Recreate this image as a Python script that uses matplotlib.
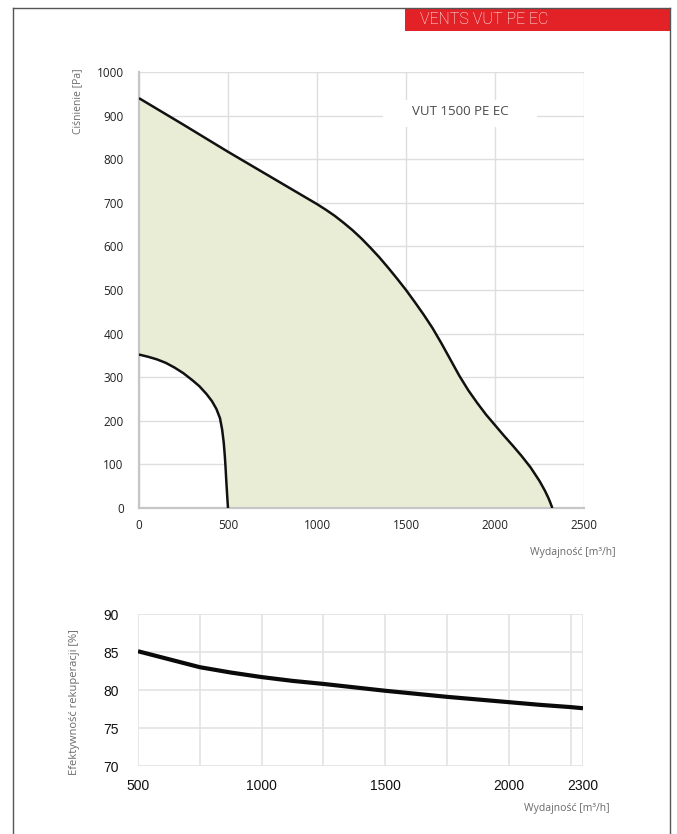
import matplotlib
matplotlib.use("Agg")
import matplotlib.pyplot as plt
from matplotlib.lines import Line2D
from matplotlib.patches import Rectangle

# Fan curve: maximum-speed characteristic (airflow m3/h, pressure Pa)
flow_max = [0, 250, 500, 750, 1000, 1050, 1100, 1150, 1200, 1250, 1300,
            1350, 1400, 1450, 1500, 1550, 1600, 1650, 1700, 1750, 1800,
            1850, 1900, 1950, 2000, 2050, 2100, 2150, 2200, 2250, 2280,
            2300, 2312, 2322]
p_max = [940, 879, 817, 757, 697, 684, 670, 654, 637, 618, 597,
         575, 551, 526, 500, 472, 443, 412, 377, 340, 303,
         270, 241, 214, 190, 166, 143, 119, 93, 62, 40,
         23, 11, 0]

# Minimum-speed characteristic
flow_min = [0, 50, 100, 150, 200, 250, 300, 340, 380, 410, 435,
            455, 467, 476, 482, 486, 490, 494, 497, 500]
p_min = [352, 347, 341, 333, 322, 309, 293, 279, 261, 245, 227,
         206, 180, 150, 120, 95, 65, 38, 18, 0]

# Heat recovery efficiency vs airflow
flow_eff = [500, 625, 750, 875, 1000, 1125, 1250, 1375, 1500, 1625,
            1750, 1875, 2000, 2125, 2250, 2300]
eff = [85.1, 84.05, 83.0, 82.3, 81.7, 81.2, 80.8, 80.35, 79.9, 79.5,
       79.1, 78.75, 78.4, 78.05, 77.75, 77.6]

x_ticks_top = [0, 500, 1000, 1500, 2000, 2500]
y_ticks_top = list(range(0, 1001, 100))
x_ticks_bot = [500, 1000, 1500, 2000, 2300]
x_grid_bot = [750, 1250, 1750, 2250]
y_ticks_bot = [70, 75, 80, 85, 90]

W, H = 677, 834
fig = plt.figure(figsize=(W / 100, H / 100), dpi=100)
fig.patch.set_facecolor("white")

def fx(px):
    return px / W

def fy(py):
    return 1 - py / H

# Page frame
frame_col = "#555555"
fig.add_artist(Line2D([fx(13), fx(13)], [0, fy(8)], color=frame_col, lw=1.0))
fig.add_artist(Line2D([fx(13), fx(670)], [fy(8), fy(8)], color=frame_col, lw=1.0))
fig.add_artist(Line2D([fx(670), fx(670)], [0, fy(8)], color=frame_col, lw=1.0))

# Red header banner
fig.add_artist(Rectangle((fx(405), fy(31)), fx(670) - fx(405), fy(8) - fy(31),
                         facecolor="#e32227", edgecolor="none"))
fig.text(fx(420), fy(20), "VENTS VUT PE EC", color="white", fontsize=11.5,
         family=["Roboto", "DejaVu Sans"], weight="light", va="center", ha="left")

grid_col = "#dedede"
tick_font = ["Open Sans", "DejaVu Sans"]
label_col = "#6a6a6a"

# ---- Upper chart: pressure vs airflow ----
ax1 = fig.add_axes([fx(139), fy(508), fx(584) - fx(139), fy(72) - fy(508)])
ax1.set_xlim(0, 2500)
ax1.set_ylim(0, 1000)
ax1.set_xticks(x_ticks_top)
ax1.set_yticks(y_ticks_top)
ax1.grid(True, color=grid_col, lw=1.0)
ax1.set_axisbelow(True)
for s in ["top", "right"]:
    ax1.spines[s].set_visible(False)
for s in ["left", "bottom"]:
    ax1.spines[s].set_color("#c6c6c6")
    ax1.spines[s].set_linewidth(1.6)
ax1.tick_params(length=0, labelsize=8.5, colors="#222222")
ax1.tick_params(axis="y", pad=11)
ax1.tick_params(axis="x", pad=8)
for lab in ax1.get_xticklabels() + ax1.get_yticklabels():
    lab.set_family(tick_font)

# Working area between the two characteristics
poly_x = list(flow_max) + list(reversed(flow_min))
poly_y = list(p_max) + list(reversed(p_min))
ax1.fill(poly_x, poly_y, color="#e9edd6", lw=0, zorder=1.5)
ax1.plot(flow_max, p_max, color="#111111", lw=1.8, zorder=3,
         solid_capstyle="butt", solid_joinstyle="round")
ax1.plot(flow_min, p_min, color="#111111", lw=1.8, zorder=3,
         solid_capstyle="butt", solid_joinstyle="round")

# Model label on a white patch that hides the grid behind it
ax1.add_patch(Rectangle((1370, 874), 2236 - 1370, 936 - 874,
                        facecolor="white", edgecolor="none", zorder=2))
ax1.text(1803, 910, "VUT 1500 PE EC", fontsize=9.5, family=tick_font,
         color="#4a4a4a", ha="center", va="center", zorder=4)

fig.text(fx(78), fy(68), "Ciśnienie [Pa]", rotation=90, ha="center", va="top",
         fontsize=7.5, family=tick_font, color=label_col)
fig.text(fx(616), fy(553), "Wydajność [m³/h]", ha="right", va="center",
         fontsize=7.5, family=tick_font, color=label_col)

# ---- Lower chart: recovery efficiency ----
ax2 = fig.add_axes([fx(138), fy(766), fx(583) - fx(138), fy(614) - fy(766)])
ax2.set_xlim(500, 2300)
ax2.set_ylim(70, 90)
ax2.set_xticks(x_ticks_bot)
ax2.set_xticks(x_grid_bot, minor=True)
ax2.set_yticks(y_ticks_bot)
ax2.grid(True, which="both", color="#e3e3e3", lw=1.2)
ax2.set_axisbelow(True)
for s in ax2.spines.values():
    s.set_visible(False)
ax2.tick_params(which="both", length=0, labelsize=10, colors="#111111")
ax2.tick_params(axis="y", pad=14)
ax2.tick_params(axis="x", pad=9)
for lab in ax2.get_xticklabels() + ax2.get_yticklabels():
    lab.set_family(["Liberation Sans", "DejaVu Sans"])
ax2.plot(flow_eff, eff, color="#0a0a0a", lw=3.0, zorder=3,
         solid_capstyle="butt", solid_joinstyle="round")

fig.text(fx(75), fy(702), "Efektywność rekuperacji [%]", rotation=90,
         ha="center", va="center", fontsize=8, family=tick_font, color=label_col)
fig.text(fx(610), fy(808), "Wydajność [m³/h]", ha="right", va="center",
         fontsize=7.5, family=tick_font, color=label_col)

fig.savefig("out.png", dpi=100, facecolor="white")
